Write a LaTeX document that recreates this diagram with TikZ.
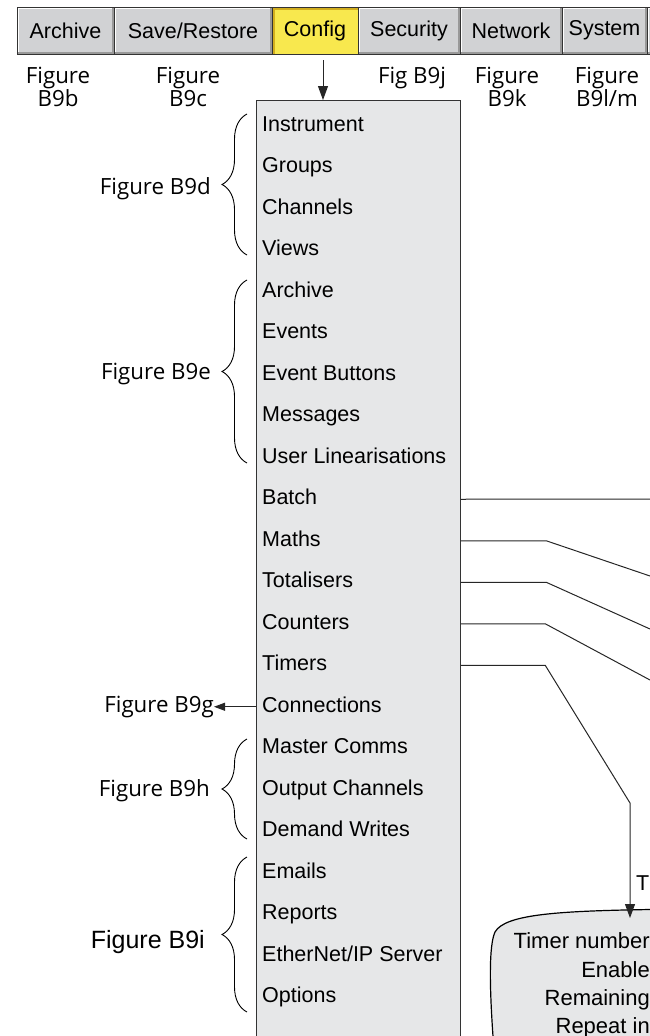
\documentclass[tikz,border=0pt]{standalone}
\usepackage{fontspec}
\setmainfont{Liberation Sans}
\newfontfamily\figfont{Open Sans}
\usetikzlibrary{arrows.meta,positioning,decorations.pathreplacing}

\definecolor{tabgrey}{HTML}{D1D2D4}
\definecolor{menugrey}{HTML}{E6E7E8}
\definecolor{cfgyellow}{HTML}{F8E84E}
\definecolor{cfgdark}{HTML}{D2AE1E}

\begin{document}
\begin{tikzpicture}[x=1pt, y=-1pt,
  font=\fontsize{21.5}{24}\selectfont,
  tab/.style={draw=black!80, line width=0.8pt, fill=tabgrey, minimum height=47pt,
    inner sep=0pt, outer sep=0pt,
    path picture={
      \draw[white, line width=4pt] (path picture bounding box.south west) -- (path picture bounding box.north west) -- (path picture bounding box.north east);
      \draw[black!40, line width=4pt] (path picture bounding box.north east) -- (path picture bounding box.south east) -- (path picture bounding box.south west);}},
  seltab/.style={tab, fill=cfgyellow,
    path picture={
      \draw[cfgdark, line width=5pt] (path picture bounding box.south west) -- (path picture bounding box.north west) -- (path picture bounding box.north east);}},
  item/.style={anchor=base west, inner sep=0pt, text height=15pt, text depth=4.5pt},
  figlbl/.style={font=\figfont\fontsize{22.3}{23}\selectfont, inner sep=0pt},
  brc/.style={decorate, decoration={brace, amplitude=25pt}, line width=0.9pt},
  link/.style={line width=1pt, draw=black!85},
  arr/.style={link, -{Triangle[length=14pt, width=10pt]}}
]
  \useasboundingbox (0,0) rectangle (650,1036);

  % tab bar
  \node[tab, anchor=north west, minimum width=97pt] (archive) at (17,7) {Archive};
  \node[tab, right=0pt of archive, minimum width=158pt] (saverest) {Save/Restore};
  \node[seltab, right=0pt of saverest, minimum width=86pt] (cfg) {Config};
  \node[tab, right=0pt of cfg, minimum width=102pt] (security) {Security};
  \node[tab, right=0pt of security, minimum width=102pt] (network) {Network};
  \node[tab, right=0pt of network, minimum width=85pt] (system) {System};
  \node[tab, right=0pt of system, minimum width=60pt] (nexttab) {};

  % figure references under the tabs
  \node[figlbl, align=center] (figb) at (58,87) {Figure\\B9b};
  \node[figlbl, align=center] (figc) at (188,87) {Figure\\B9c};
  \node[figlbl, anchor=base] (figj) at (412,83) {Fig B9j};
  \node[figlbl, align=center] (figk) at (507,87) {Figure\\B9k};
  \node[figlbl, align=center] (figlm) at (607,87) {Figure\\B9l/m};

  % config menu
  \node[draw=black!80, line width=1.2pt, fill=menugrey, anchor=north west,
    minimum width=204pt, minimum height=960pt, inner sep=0pt] (menu) at (256,100) {};
  \foreach \entry [count=\i] in {Instrument, Groups, Channels, Views, Archive, Events,
      Event Buttons, Messages, User Linearisations, Batch, Maths, Totalisers, Counters,
      Timers, Connections, Master Comms, Output Channels, Demand Writes, Emails,
      Reports, EtherNet/IP Server, Options}
    \node[item] (it\i) at (262, {131+41.5*(\i-1)}) {\entry};

  \draw[arr] ([xshift=8pt, yshift=-6pt]cfg.south) coordinate (cfgout) -- (cfgout |- menu.north);

  % groups of entries
  \draw[brc] (247,255) -- (247,114);
  \node[figlbl, anchor=base east] (figd) at (211,194) {Figure B9d};
  \draw[brc] (247,463) -- (247,280);
  \node[figlbl, anchor=base east] (fige) at (211,379) {Figure B9e};
  \coordinate (connin) at (it15.west -| menu.west);
  \node[figlbl, left=42pt of connin] (figg) {Figure B9g};
  \draw[link, -{Triangle[length=11pt, width=8pt]}] (connin) -- (figg);
  \draw[brc] (247,839) -- (247,739);
  \node[figlbl, anchor=base east] (figh) at (210,796) {Figure B9h};
  \draw[brc] (247,1012) -- (247,857);
  \node[anchor=base east, inner sep=0pt, font=\fontsize{25}{28}\selectfont] (figi) at (205,948) {Figure B9i};

  % timer details
  \fill[menugrey] (700,909) -- (650,909.5) .. controls (560,911) and (505,914) .. (495,932)
    .. controls (489,945) and (489,985) .. (494,1050) -- (700,1050) -- cycle;
  \draw[line width=1.2pt] (700,909) -- (650,909.5) .. controls (560,911) and (505,914) .. (495,932)
    .. controls (489,945) and (489,985) .. (494,1050);
  \node[anchor=base west, inner sep=0pt] (tmrhead) at (636,890) {T};
  \node[anchor=base east, inner sep=0pt, font=\fontsize{22}{24}\selectfont] (tmrnum) at (650,948) {Timer number};
  \node[anchor=base east, inner sep=0pt, font=\fontsize{22}{24}\selectfont] (tmren) at (650,977) {Enable};
  \node[anchor=base east, inner sep=0pt, font=\fontsize{22}{24}\selectfont] (tmrrem) at (650,1005) {Remaining};
  \node[anchor=base east, inner sep=0pt, font=\fontsize{22}{24}\selectfont] (tmrrep) at (650,1033) {Repeat in};

  % links to the right
  \coordinate (batchend) at (650,499);
  \coordinate (mathsend) at (650,576);
  \coordinate (totend) at (650,629);
  \coordinate (cntend) at (650,680);
  \coordinate (tmrin) at (630,918);
  \draw[link] (it10.east -| menu.east) -- (batchend);
  \draw[link] (it11.east -| menu.east) -- ++(85,0) -- (mathsend);
  \draw[link] (it12.east -| menu.east) -- ++(85,0) -- (totend);
  \draw[link] (it13.east -| menu.east) -- ++(84,0) -- (cntend);
  \draw[arr] (it14.east -| menu.east) -- ++(84,0) -- (630,803) -- (tmrin);
\end{tikzpicture}
\end{document}
